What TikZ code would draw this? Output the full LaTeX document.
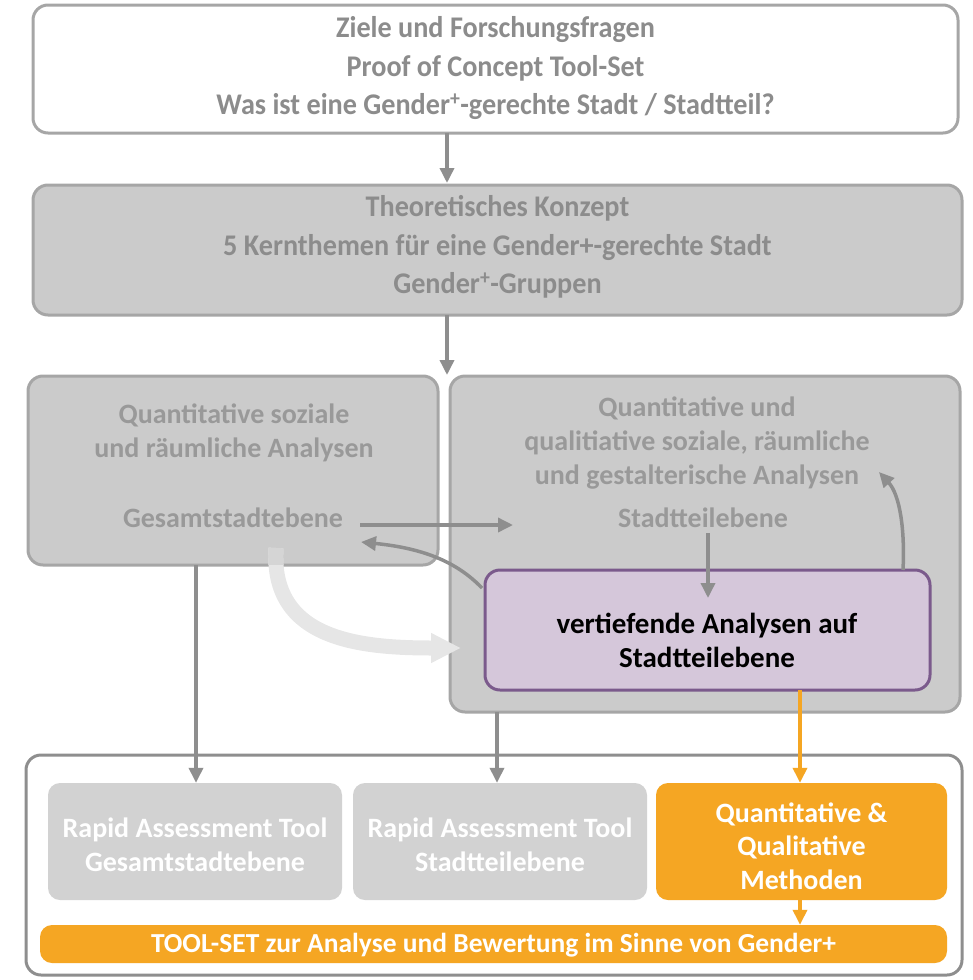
\documentclass[tikz,border=0pt]{standalone}
\usepackage{fontspec}
\setmainfont{Carlito}
\usetikzlibrary{arrows.meta}
\definecolor{txtgray}{HTML}{8C8C8C}
\definecolor{midtxt}{HTML}{999999}
\definecolor{boxgray}{HTML}{CBCBCB}
\definecolor{edgegray}{HTML}{A6A6A6}
\definecolor{linegray}{HTML}{8E8E8E}
\definecolor{toolgray}{HTML}{D2D2D2}
\definecolor{lilafill}{HTML}{D5C7DA}
\definecolor{lilaedge}{HTML}{7B5A8C}
\definecolor{amber}{HTML}{F5A623}
\definecolor{faint}{HTML}{E6E6E6}
\definecolor{faintin}{HTML}{D5D5D5}
\newcommand{\gplus}{\textsuperscript{+}}
\newcommand{\narrow}[1]{\scalebox{0.94}[1]{#1}}
\tikzset{
  panel/.style={draw=edgegray, line width=3pt, rounded corners=15pt, inner sep=0pt},
  toolbox/.style={fill=toolgray, rounded corners=12pt, inner sep=0pt, minimum width=294pt, minimum height=117pt},
  headtxt/.style={text=txtgray, font=\bfseries\fontsize{30}{38.5}\selectfont, align=center},
  midlabel/.style={text=midtxt, font=\bfseries\fontsize{28}{34}\selectfont, align=center},
  whitetxt/.style={text=white, font=\bfseries\fontsize{28}{33.5}\selectfont, align=center},
  flow/.style={draw=linegray, line width=3.5pt, -{Triangle[length=15pt, width=14pt]}},
  amberflow/.style={draw=amber, line width=3.5pt, -{Triangle[length=15pt, width=14pt]}},
  band/.style={line width=15pt, -{Triangle[length=30pt, width=28pt]}},
}
\begin{document}
\begin{tikzpicture}[x=1pt, y=-1pt]
\useasboundingbox (0,0) rectangle (972,980);

% top: goals and research questions
\node[panel, fill=white, minimum width=925pt, minimum height=128pt] (goals) at (495.5,69) {};
\node[headtxt] (goalstxt) at (495.5,68.5) {\narrow{Ziele und Forschungsfragen}\\
  \narrow{Proof of Concept Tool-Set}\\
  \narrow{Was ist eine Gender\gplus-gerechte Stadt / Stadtteil?}};

% theoretical concept
\node[panel, fill=boxgray, minimum width=929pt, minimum height=130pt] (theory) at (497.5,250) {};
\node[headtxt] (theorytxt) at (497.5,247) {\narrow{Theoretisches Konzept}\\
  \narrow{5 Kernthemen für eine Gender+-gerechte Stadt}\\
  \narrow{Gender\gplus-Gruppen}};

% analysis levels
\node[panel, fill=boxgray, minimum width=410pt, minimum height=189pt] (city) at (233,470.5) {};
\node[panel, fill=boxgray, minimum width=510pt, minimum height=336pt] (district) at (705,544) {};
\node[midlabel] (citytxt) at (234,432.5) {Quantitative soziale\\und räumliche Analysen};
\node[midlabel] (citylvl) at (233,518) {Gesamtstadtebene};
\node[midlabel] (distxt) at (697,443.5) {Quantitative und\\qualitiative soziale, räumliche\\und gestalterische Analysen};
\node[midlabel] (dislvl) at (703,518) {Stadtteilebene};

% in-depth analyses
\node[draw=lilaedge, fill=lilafill, line width=3pt, rounded corners=15pt,
      minimum width=445pt, minimum height=120pt] (deep) at (707.5,630) {};
\node[text=black, font=\bfseries\fontsize{29}{34}\selectfont, align=center] (deeptxt) at (707,640)
  {vertiefende Analysen auf\\Stadtteilebene};

% tool-set frame
\node[draw=linegray, line width=3pt, rounded corners=15pt, fill=white,
      minimum width=936pt, minimum height=220pt] (frame) at (494,865) {};
\node[toolbox] (rat1) at (195,841.5) {};
\node[whitetxt] (rat1txt) at (195,845) {Rapid Assessment Tool\\Gesamtstadtebene};
\node[toolbox] (rat2) at (500,841.5) {};
\node[whitetxt] (rat2txt) at (500,845) {Rapid Assessment Tool\\Stadtteilebene};
\node[toolbox, fill=amber, minimum width=291pt] (methods) at (801.5,841.5) {};
\node[whitetxt] (methtxt) at (801.5,846) {Quantitative \&\\Qualitative\\Methoden};
\node[fill=amber, rounded corners=12pt, minimum width=907pt, minimum height=38pt] (toolset) at (493.5,944) {};
\node[whitetxt, font=\bfseries\fontsize{27.5}{33}\selectfont] (tooltxt) at (493.5,945) {TOOL-SET zur Analyse und Bewertung im Sinne von Gender+};

% connectors
\coordinate (a1) at (447,133);
\coordinate (a1e) at (447,183);
\draw[flow] (a1) -- (a1e);
\coordinate (a2) at (447,315);
\coordinate (a2e) at (447,375);
\draw[flow] (a2) -- (a2e);

\coordinate (gsr) at (360,525);
\coordinate (stl) at (513,525);
\draw[flow] (gsr) -- (stl);
\coordinate (deepnw) at (482,588);
\coordinate (gsback) at (361,542);
\draw[flow] (deepnw) .. controls (455,560) and (420,548) .. (gsback);
\coordinate (stdown) at (708,533);
\draw[flow] (stdown) -- (708,598);
\coordinate (deepne) at (903,570);
\coordinate (upback) at (879,472);
\draw[flow] (deepne) .. controls (905,530) and (900,495) .. (upback);

\draw[flow] (196,565) -- (rat1.north -| 196,0);
\draw[flow] (497,712) -- (rat2.north -| 497,0);
\draw[amberflow] (800,690) -- (methods.north -| 800,0);
\draw[amberflow] (800,900) -- (toolset.north -| 800,0);

% broad pale feedback arrow, fainter where it lies on the city panel
\coordinate (fb1) at (276,548);
\coordinate (fb2) at (461,648);
\draw[band, draw=faint]
  (fb1) .. controls (270,640) and (360,648) .. (fb2);
\begin{scope}
  \clip (28,376) rectangle (438,564);
  \draw[line width=15pt, draw=faintin] (fb1) .. controls (270,640) and (360,648) .. (fb2);
\end{scope}
\end{tikzpicture}
\end{document}
